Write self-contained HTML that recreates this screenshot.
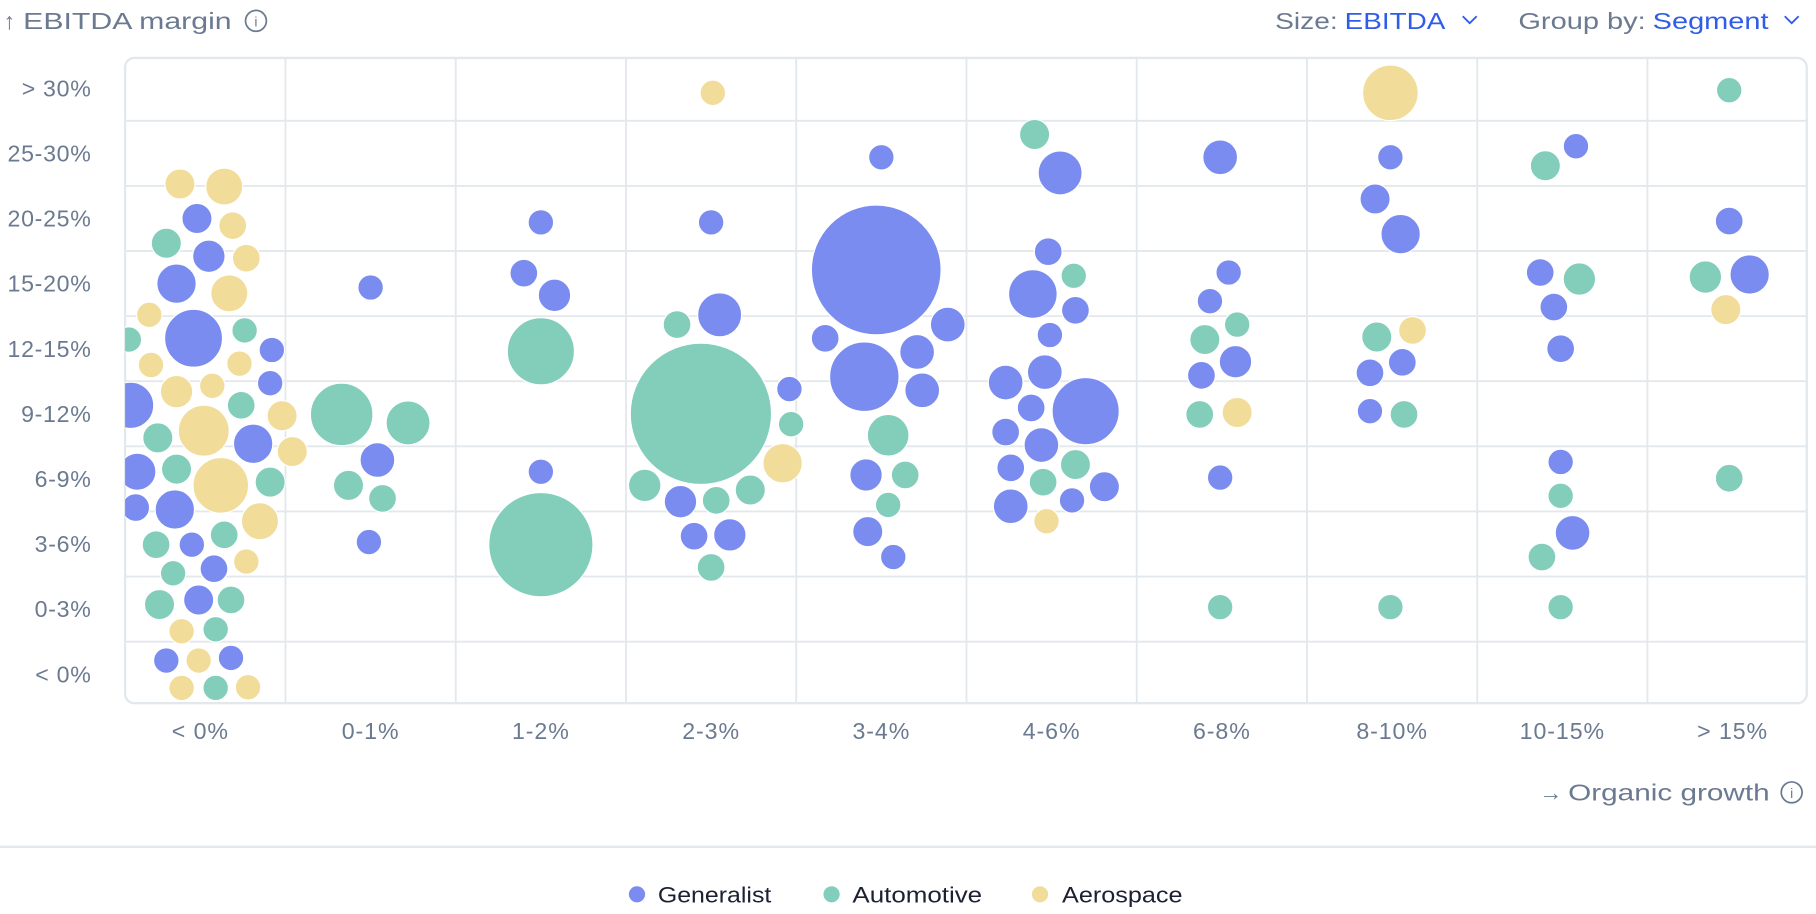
<!DOCTYPE html>
<html><head><meta charset="utf-8"><style>
html,body{margin:0;padding:0;background:#fff;width:1816px;height:914px;overflow:hidden}
svg{display:block}
text{font-family:"Liberation Sans",sans-serif}
</style></head><body>
<svg id="chart" width="1816" height="914" viewBox="0 0 1568 789" preserveAspectRatio="none" xmlns="http://www.w3.org/2000/svg">
<defs><clipPath id="plotclip"><rect x="108" y="50" width="1452" height="557" rx="8"/></clipPath></defs>
<g>
<text x="3" y="25" font-size="20" fill="#6b7a90">↑</text>
<text x="20" y="25" font-size="20" fill="#6b7a90" textLength="180" lengthAdjust="spacingAndGlyphs">EBITDA margin</text>
<circle cx="221" cy="18" r="9" fill="none" stroke="#6b7a90" stroke-width="1.5"/>
<text x="221" y="23" font-size="12" fill="#6b7a90" text-anchor="middle">i</text>
</g>
<g>
<text x="1101" y="25" font-size="20" fill="#6b7a90" textLength="54" lengthAdjust="spacingAndGlyphs">Size:</text>
<text x="1161" y="25" font-size="20" fill="#2f5ce8" textLength="87" lengthAdjust="spacingAndGlyphs">EBITDA</text>
<path d="M1263 14 l6 6 l6 -6" fill="none" stroke="#2f5ce8" stroke-width="1.6"/>
</g>
<g>
<text x="1311" y="25" font-size="20" fill="#6b7a90" textLength="110" lengthAdjust="spacingAndGlyphs">Group by:</text>
<text x="1427" y="25" font-size="20" fill="#2f5ce8" textLength="100" lengthAdjust="spacingAndGlyphs">Segment</text>
<path d="M1541 14 l6 6 l6 -6" fill="none" stroke="#2f5ce8" stroke-width="1.6"/>
</g>
<g id="grid"></g>
<rect x="108" y="50" width="1452" height="557" rx="8" fill="none" stroke="#e3e8ec" stroke-width="2"/>
<g id="bubbles" clip-path="url(#plotclip)"></g>
<g id="ylabels"></g>
<g id="xlabels"></g>
<g>
<text x="1329" y="691" font-size="20" fill="#6b7a90">→</text>
<text x="1354" y="691" font-size="20" fill="#6b7a90" textLength="174" lengthAdjust="spacingAndGlyphs">Organic growth</text>
<circle cx="1547" cy="684" r="9" fill="none" stroke="#6b7a90" stroke-width="1.5"/>
<text x="1547" y="689" font-size="12" fill="#6b7a90" text-anchor="middle">i</text>
</g>
<line x1="0" y1="731" x2="1568" y2="731" stroke="#e3e8ec" stroke-width="2"/>
<g>
<g><circle cx="550" cy="772" r="7" fill="#7b8cf0"/><text x="568" y="779" font-size="19" fill="#1c2033" textLength="98" lengthAdjust="spacingAndGlyphs">Generalist</text></g>
<g><circle cx="718" cy="772" r="7" fill="#82cebb"/><text x="736" y="779" font-size="19" fill="#1c2033" textLength="112" lengthAdjust="spacingAndGlyphs">Automotive</text></g>
<g><circle cx="898" cy="772" r="7" fill="#f2dc9a"/><text x="917" y="779" font-size="19" fill="#1c2033" textLength="104" lengthAdjust="spacingAndGlyphs">Aerospace</text></g>
</g>
</svg>
<script>
const xCategories = ["< 0%","0-1%","1-2%","2-3%","3-4%","4-6%","6-8%","8-10%","10-15%","> 15%"];
const yCategories = ["< 0%","0-3%","3-6%","6-9%","9-12%","12-15%","15-20%","20-25%","25-30%","> 30%"];
const segments = ["Generalist","Automotive","Aerospace"];
const segColors = ["#7b8cf0","#82cebb","#f2dc9a"];
// growth (column units), margin (row units), EBITDA, segment index (0 G,1 A,2 E)
const growth = [-0.12,0.14,-0.02,0.19,-0.20,0.05,0.27,-0.14,0.17,-0.30,-0.04,0.26,-0.42,0.42,-0.29,0.23,0.07,-0.14,0.41,-0.41,0.24,0.48,-0.25,0.02,0.31,0.54,-0.37,-0.14,0.12,0.41,-0.38,-0.15,0.35,-0.26,-0.05,0.14,0.27,-0.16,0.08,-0.24,-0.01,0.18,-0.11,0.09,-0.20,-0.01,0.18,-0.11,0.09,0.28,
1.00,0.83,1.22,1.04,0.87,1.07,0.99,
2.00,1.90,2.08,2.00,2.00,2.00,
3.01,3.00,2.80,3.05,2.94,3.46,3.47,3.42,2.61,2.82,3.03,3.23,2.90,3.11,3.00,
4.00,3.97,3.67,4.39,3.90,4.21,4.24,4.04,3.91,4.14,4.04,3.92,4.07,
4.90,5.05,4.98,5.13,4.89,5.14,4.99,4.73,4.96,5.20,4.88,4.73,4.94,5.14,4.76,4.95,5.31,4.76,5.12,4.97,
5.99,6.04,5.93,6.09,5.90,6.08,5.88,5.87,6.09,5.99,5.99,
6.99,6.99,6.90,7.05,6.91,7.12,7.06,6.87,6.87,7.07,6.99,
8.08,7.90,7.87,8.10,7.95,7.99,7.99,7.99,8.06,7.88,7.99,
8.98,8.98,8.84,9.10,8.96,8.98];
const margin = [7.53,7.49,7.00,6.89,6.62,6.42,6.39,6.00,5.85,5.52,5.16,5.28,5.14,4.98,4.75,4.77,4.43,4.34,4.47,4.13,4.13,3.97,3.63,3.74,3.54,3.42,3.11,3.15,2.90,2.95,2.56,2.53,2.35,1.99,1.99,2.14,1.73,1.55,1.62,1.07,1.14,1.14,0.66,0.69,0.21,0.21,0.25,-0.21,-0.21,-0.20,
5.94,3.99,3.86,3.29,2.90,2.70,2.03,
6.94,6.16,5.82,4.96,3.11,1.99,
8.93,6.94,5.37,5.52,4.00,4.38,3.84,3.24,2.90,2.65,2.67,2.83,2.12,2.14,1.64,
7.94,6.21,5.16,5.37,4.57,4.95,4.36,3.67,3.06,3.06,2.60,2.19,1.80,
8.29,7.70,6.49,6.12,5.84,5.59,5.21,4.48,4.64,4.04,4.09,3.72,3.52,3.22,3.17,2.95,2.88,2.58,2.67,2.35,
7.94,6.17,5.73,5.37,5.14,4.80,4.59,3.99,4.02,3.02,1.03,
8.93,7.94,7.30,6.76,5.18,5.28,4.79,4.63,4.04,3.99,1.03,
8.11,7.81,6.17,6.07,5.64,5.00,3.26,2.74,2.17,1.80,1.03,
8.97,6.96,6.10,6.14,5.60,3.01];
const ebitda = [16.9,25.6,16.9,14.4,16.9,19.6,14.4,28.9,25.6,12.1,62.5,12.1,12.1,12.1,12.1,12.1,12.1,19.6,12.1,40.0,14.4,16.9,16.9,48.4,28.9,16.9,25.6,16.9,57.6,16.9,14.4,28.9,25.6,14.4,12.1,14.4,12.1,12.1,14.4,16.9,16.9,14.4,12.1,12.1,12.1,12.1,12.1,12.1,12.1,12.1,
12.1,72.9,36.1,22.5,16.9,14.4,12.1,
12.1,14.4,19.6,84.1,12.1,202.5,
12.1,12.1,14.4,36.1,372.1,12.1,12.1,28.9,19.6,19.6,14.4,16.9,14.4,19.6,14.4,
12.1,313.6,14.4,22.5,90.0,22.5,22.5,32.4,19.6,14.4,12.1,16.9,12.1,
16.9,36.1,14.4,12.1,44.1,14.4,12.1,22.5,22.5,84.1,14.4,14.4,22.5,16.9,14.4,14.4,16.9,22.5,12.1,12.1,
22.5,12.1,12.1,12.1,16.9,19.6,14.4,14.4,16.9,12.1,12.1,
57.6,12.1,16.9,28.9,16.9,14.4,14.4,14.4,12.1,14.4,12.1,
12.1,16.9,14.4,19.6,14.4,14.4,12.1,12.1,22.5,14.4,12.1,
12.1,14.4,19.6,28.9,16.9,14.4];
const segment = [2,2,0,2,1,0,2,0,2,2,0,1,1,0,2,2,2,2,0,0,1,2,1,2,0,2,0,1,2,1,0,0,2,1,0,1,2,1,0,1,0,1,2,1,0,2,0,2,1,2,
0,1,1,0,1,1,0,
0,0,0,1,0,1,
2,0,1,0,1,0,1,2,1,0,1,1,0,0,1,
0,0,0,0,0,0,0,1,0,1,1,0,0,
1,0,0,1,0,0,0,0,0,0,0,0,0,1,0,1,0,0,0,2,
0,0,0,1,1,0,0,1,2,0,1,
2,0,0,0,1,2,0,0,0,1,1,
0,1,0,1,0,0,0,1,0,1,1,
1,0,1,0,2,1];

const NS = "http://www.w3.org/2000/svg";
const xScale = v => 173 + 147 * v;
const yScale = v => 582 - 56.2 * v;
const rScale = v => Math.sqrt(v * 10);

const grid = document.getElementById('grid');
for (let i = 0; i < xCategories.length - 1; i++) {
  const l = document.createElementNS(NS, 'line');
  const x = xScale(i + 0.5);
  l.setAttribute('x1', x); l.setAttribute('x2', x); l.setAttribute('y1', 50); l.setAttribute('y2', 607);
  l.setAttribute('stroke', '#e3e8ec'); l.setAttribute('stroke-width', '1.6');
  
  
  grid.appendChild(l);
}
for (let i = 0; i < yCategories.length - 1; i++) {
  const l = document.createElementNS(NS, 'line');
  const y = yScale(i + 0.5);
  l.setAttribute('x1', 108); l.setAttribute('x2', 1560); l.setAttribute('y1', y); l.setAttribute('y2', y);
  l.setAttribute('stroke', '#e3e8ec'); l.setAttribute('stroke-width', '1.6');
  
  
  grid.appendChild(l);
}
const yl = document.getElementById('ylabels');
yCategories.forEach((c, i) => {
  const t = document.createElementNS(NS, 'text');
  t.setAttribute('x', 79); t.setAttribute('y', yScale(i) + 7);
  t.setAttribute('text-anchor', 'end'); t.setAttribute('font-size', '20'); t.setAttribute('fill', '#6b7a90');
  t.setAttribute('letter-spacing', '0.6');
  t.textContent = c;
  
  
  yl.appendChild(t);
});
const xl = document.getElementById('xlabels');
xCategories.forEach((c, i) => {
  const t = document.createElementNS(NS, 'text');
  t.setAttribute('x', xScale(i)); t.setAttribute('y', 638);
  t.setAttribute('text-anchor', 'middle'); t.setAttribute('font-size', '20'); t.setAttribute('fill', '#6b7a90');
  t.setAttribute('letter-spacing', '0.8');
  t.textContent = c;
  
  
  xl.appendChild(t);
});
const bg = document.getElementById('bubbles');
for (let i = 0; i < growth.length; i++) {
  const c = document.createElementNS(NS, 'circle');
  c.setAttribute('cx', xScale(growth[i]));
  c.setAttribute('cy', yScale(margin[i]));
  c.setAttribute('r', rScale(ebitda[i]));
  c.setAttribute('fill', segColors[segment[i]]);
  c.setAttribute('stroke', '#fff'); c.setAttribute('stroke-width', '1');
  
  
  bg.appendChild(c);
}
</script>
</body></html>
